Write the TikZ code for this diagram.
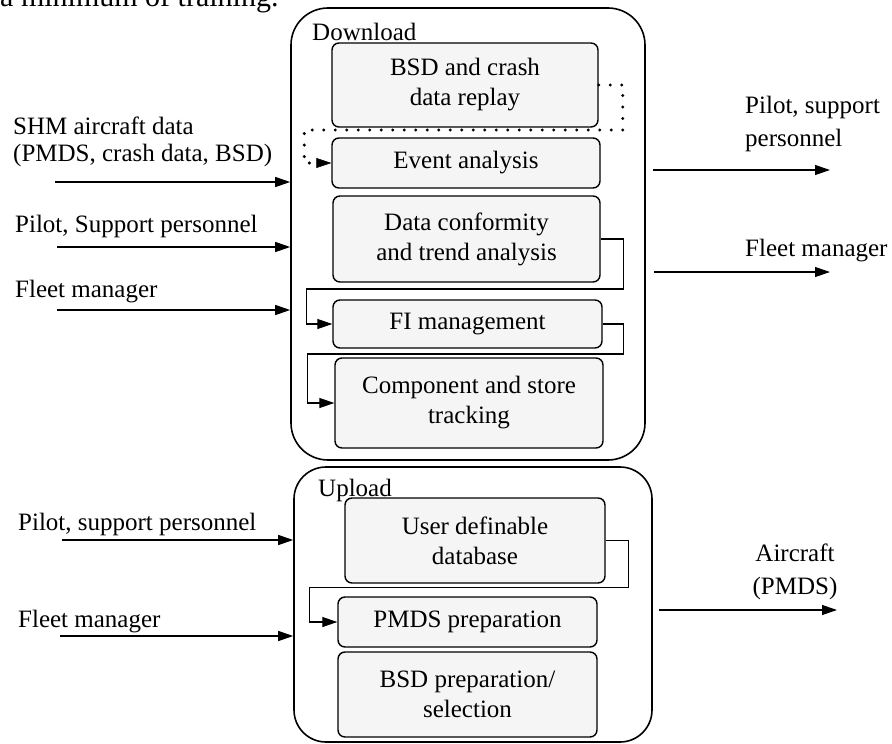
\documentclass[tikz,border=0pt]{standalone}
\usepackage{fontspec}
\setmainfont{Liberation Serif}
\usetikzlibrary{arrows.meta,calc}

\tikzset{
  outerbox/.style={draw, line width=1.6pt, rounded corners=#1, inner sep=0pt},
  outerbox/.default=34pt,
  procbox/.style={draw, line width=1.4pt, rounded corners=7pt, fill=black!4,
    align=center, inner sep=0pt, font=\fontsize{25}{30}\selectfont},
  label/.style={inner sep=0pt, align=left, font=\fontsize{25}{27}\selectfont},
  rlabel/.style={inner sep=0pt, align=left, font=\fontsize{25}{33}\selectfont},
  title/.style={anchor=base west, inner sep=0pt, font=\fontsize{25}{30}\selectfont},
  flow/.style={line width=1.2pt, -{Triangle[length=15pt,width=10pt]}},
  dotline/.style={line width=3.4pt, line cap=round, dash pattern=on 0pt off 11.5pt,
    -{Triangle[length=15pt,width=10pt,line width=0.5pt]}},
}

\begin{document}
\begin{tikzpicture}[x=1pt,y=-1pt]
\useasboundingbox (0,0) rectangle (892,744);
\clip (0,0) rectangle (892,744);

% running text of the page above the figure
\node[anchor=base west, inner sep=0pt, font=\fontsize{30}{36}\selectfont] (pagetext) at (0,6) {a minimum of training.};

% ---------- download group ----------
\node[outerbox=37pt, minimum width=354pt, minimum height=452pt] (dl) at (468,234) {};
\node[title] (dltitle) at (312,40) {Download};

\node[procbox, minimum width=266pt, minimum height=84pt] (replay) at (465,85) {BSD and crash\\data replay};
\node[procbox, minimum width=268pt, minimum height=50pt] (event) at (466,163) {Event analysis};
\node[procbox, minimum width=267pt, minimum height=86pt] (conf) at (466.5,239) {Data conformity\\and trend analysis};
\node[procbox, minimum width=269pt, minimum height=48pt] (fi) at (467.5,324) {FI management};
\node[procbox, minimum width=268pt, minimum height=90pt] (comp) at (469,403) {Component and store\\tracking};

% ---------- upload group ----------
\node[outerbox=32pt, minimum width=358pt, minimum height=275pt] (ul) at (473,604.5) {};
\node[title] (ultitle) at (318,496) {Upload};

\node[procbox, minimum width=260pt, minimum height=85pt] (udb) at (475,540.5) {User definable\\database};
\node[procbox, minimum width=259pt, minimum height=50pt] (pmds) at (467.5,622) {PMDS preparation};
\node[procbox, minimum width=259pt, minimum height=85pt] (bsdp) at (467.5,694.5) {BSD preparation/\\selection};

% ---------- links between the functions ----------
\draw[dotline] (replay.east) -- ++(24,0) -- ++(0,45) -| ([xshift=-27pt]event.west) -- (event.west);
\draw[flow] (conf.east) -- ++(23,0) -- ++(0,50) -| ([xshift=-26pt]fi.west) -- (fi.west);
\draw[flow] (fi.east) -- ++(21,0) -- ++(0,30) -| ([xshift=-27pt]comp.west) -- (comp.west);
\draw[flow] (udb.east) -- ++(23,0) -- ++(0,47) -| ([xshift=-28pt]pmds.west) -- (pmds.west);

% ---------- inputs ----------
\coordinate (in1) at (55,182);
\coordinate (in2) at (57,247);
\coordinate (in3) at (57,310);
\coordinate (in4) at (62,540);
\coordinate (in5) at (60,636);
\draw[flow] (in1) -- (in1 -| dl.west);
\draw[flow] (in2) -- (in2 -| dl.west);
\draw[flow] (in3) -- (in3 -| dl.west);
\draw[flow] (in4) -- (in4 -| ul.west);
\draw[flow] (in5) -- (in5 -| ul.west);

% multi-line labels are placed by the baseline of their last line
\node[label, anchor=base west] (lin1) at (13,161) {SHM aircraft data\\(PMDS, crash data, BSD)};
\node[label, anchor=base west] (lin2) at (15,232) {Pilot, Support personnel};
\node[label, anchor=base west] (lin3) at (15,297) {Fleet manager};
\node[label, anchor=base west] (lin4) at (18,530) {Pilot, support personnel};
\node[label, anchor=base west] (lin5) at (18,627) {Fleet manager};

% ---------- outputs ----------
\coordinate (out1) at (830,170);
\coordinate (out2) at (830,272);
\coordinate (out3) at (837,610);
\draw[flow] (out1 -| dl.east) ++(7,0) -- (out1);
\draw[flow] (out2 -| dl.east) ++(8,0) -- (out2);
\draw[flow] (out3 -| ul.east) ++(6,0) -- (out3);

\node[rlabel, anchor=base west] (lout1) at (745,146) {Pilot, support\\personnel};
\node[rlabel, anchor=base west] (lout2) at (745,256) {Fleet manager};
\node[rlabel, anchor=base, align=center] (lout3) at (795,594) {Aircraft\\(PMDS)};
\end{tikzpicture}
\end{document}
